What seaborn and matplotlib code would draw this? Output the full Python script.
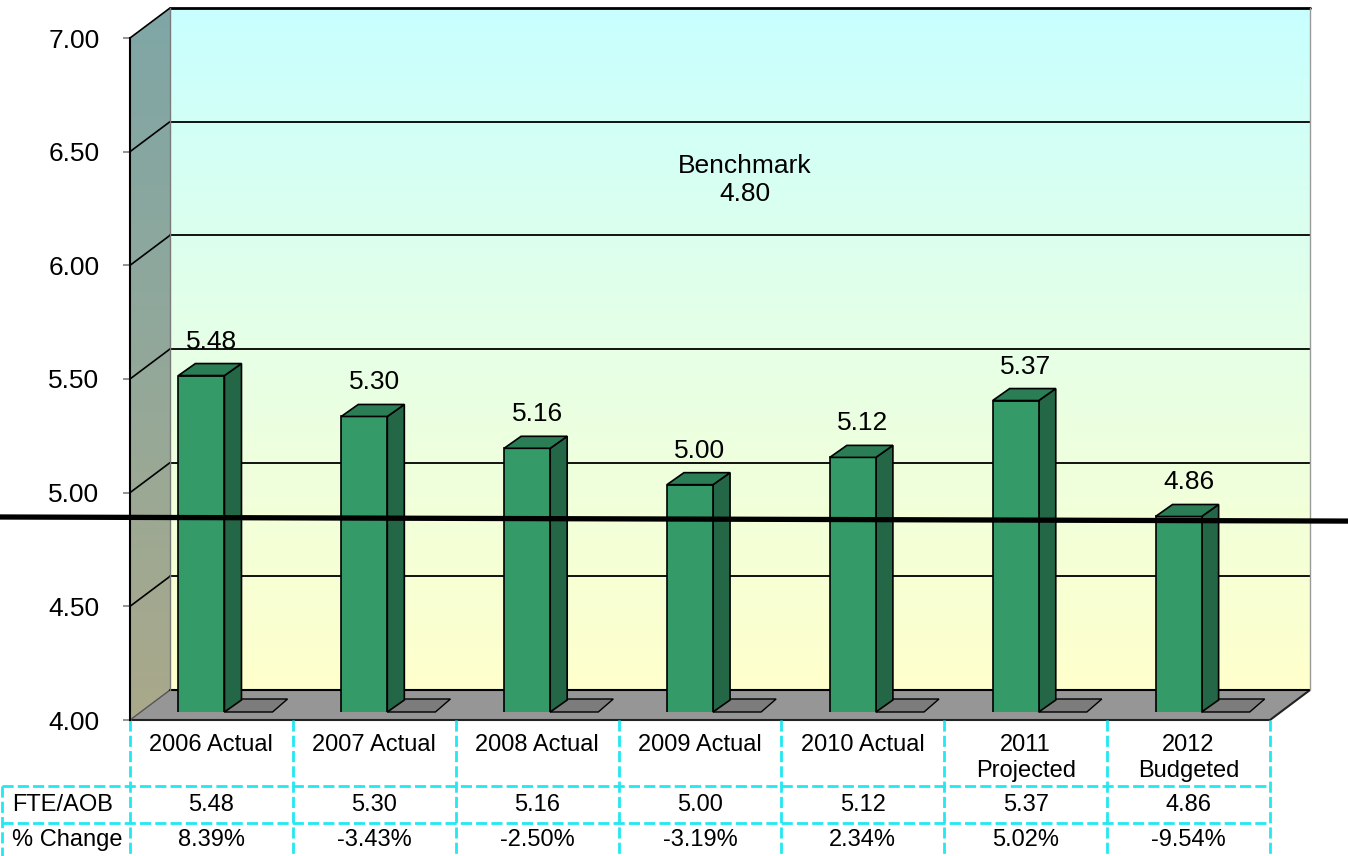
import numpy as np
import pandas as pd
import matplotlib
matplotlib.use("Agg")
import matplotlib.pyplot as plt
import matplotlib.transforms as mtransforms
from matplotlib.patches import Polygon
from matplotlib.colors import LinearSegmentedColormap
import seaborn as sns

# ---------------- data ----------------
categories = ["2006 Actual", "2007 Actual", "2008 Actual", "2009 Actual",
              "2010 Actual", "2011\nProjected", "2012\nBudgeted"]
fte_aob = [5.48, 5.30, 5.16, 5.00, 5.12, 5.37, 4.86]
pct_change = ["8.39%", "-3.43%", "-2.50%", "-3.19%", "2.34%", "5.02%", "-9.54%"]
row_labels = ["FTE/AOB", "% Change"]
y_ticks = [4.0, 4.5, 5.0, 5.5, 6.0, 6.5, 7.0]
benchmark_value = 4.80
benchmark_line = [4.893, 4.875]   # drawn level of the benchmark rule (left, right)

# ---------------- style ----------------
sns.set_theme(style="white")
plt.rcParams['font.family'] = ['Liberation Sans', 'DejaVu Sans']
plt.rcParams['text.color'] = 'black'
plt.rcParams['ytick.labelcolor'] = 'black'
plt.rcParams['xtick.labelcolor'] = 'black'

W, H = 1348, 856
fig = plt.figure(figsize=(W / 100, H / 100), dpi=100)
fig.patch.set_facecolor("white")

FL, FR, FT, FB = 130, 1270, 38, 720     # front plane in px
DX, DY = 40, 30                          # wall depth
SCALE = (FB - FT) / (y_ticks[-1] - y_ticks[0])
YMIN, YMAX = y_ticks[0], y_ticks[-1]
n = len(categories)
COLW = (FR - FL) / n
FS_TABLE = 17


def rect(l, t, r, b):
    return [l / W, 1 - b / H, (r - l) / W, (b - t) / H]


def yf(v):
    return FB - (v - YMIN) * SCALE


def yb(v):
    return FB - DY - (v - YMIN) * SCALE


# ---------------- background (walls, floor, table) ----------------
ax_bg = fig.add_axes([0, 0, 1, 1], zorder=0)
ax_bg.set_xlim(0, W)
ax_bg.set_ylim(H, 0)
ax_bg.axis("off")

grad = np.linspace(0, 1, 256).reshape(-1, 1)
back_cmap = LinearSegmentedColormap.from_list("back", ["#c8ffff", "#e6ffe6", "#ffffcc"])
ax_bg.imshow(grad, cmap=back_cmap, extent=(FL + DX, FR + DX, FB - DY, FT - DY),
             aspect="auto", origin="upper", zorder=1)

left_cmap = LinearSegmentedColormap.from_list("left", ["#7fa6a6", "#93a89a", "#aaa88a"])
im = ax_bg.imshow(grad, cmap=left_cmap, extent=(FL, FL + DX, FB, FT - DY),
                  aspect="auto", origin="upper", zorder=1)
left_poly = Polygon([(FL, FT), (FL + DX, FT - DY), (FL + DX, FB - DY), (FL, FB)],
                    closed=True, facecolor="none", edgecolor="none",
                    transform=ax_bg.transData)
ax_bg.add_patch(left_poly)
im.set_clip_path(left_poly)

# floor
floor = Polygon([(FL, FB), (FR, FB), (FR + DX, FB - DY), (FL + DX, FB - DY)],
                closed=True, facecolor="#969696", edgecolor="none", zorder=2)
ax_bg.add_patch(floor)
ax_bg.plot([FL, FR, FR + DX], [FB, FB, FB - DY], color="#222222", lw=1.5, zorder=3)
ax_bg.plot([FL, FL + DX], [FB, FB - DY], color="#555555", lw=1.0, zorder=3)
ax_bg.plot([FL + DX, FR + DX], [FB - DY, FB - DY], color="black", lw=1.5, zorder=3)

# gridlines on back wall and left wall
for v in y_ticks[1:]:
    lw = 2.0 if v == YMAX else 1.3
    ax_bg.plot([FL + DX, FR + DX], [yb(v), yb(v)], color="black", lw=lw, zorder=3)
    ax_bg.plot([FL, FL + DX], [yf(v), yb(v)], color="black", lw=1.2, zorder=3)
ax_bg.plot([FL + DX, FL + DX], [yb(YMAX), yb(YMIN)], color="#7a7a7a", lw=1.0, zorder=3)
ax_bg.plot([FR + DX, FR + DX], [yb(YMAX), yb(YMIN)], color="#9a9a9a", lw=1.0, zorder=3)

# benchmark text
ax_bg.text((FL + FR) / 2 + DX + 5, 180, f"Benchmark\n{benchmark_value:.2f}",
           ha="center", va="center", fontsize=19, linespacing=1.25, zorder=4)

# data table
cyan = "#22e8f2"
dash = (0, (4, 1.5))
for k in range(n + 1):
    x = FL + k * COLW
    ax_bg.plot([x, x], [FB, H], color=cyan, lw=2, ls=dash, zorder=3)
ax_bg.plot([2, 2], [786, H], color=cyan, lw=2, ls=dash, zorder=3)
for y in (786, 823):
    ax_bg.plot([2, FR], [y, y], color=cyan, lw=2, ls=dash, zorder=3)

for i, cat in enumerate(categories):
    cx = FL + (i + 0.5) * COLW
    ax_bg.text(cx, 734, cat, ha="center", va="top", fontsize=FS_TABLE, linespacing=1.25)
    ax_bg.text(cx, 805, f"{fte_aob[i]:.2f}", ha="center", va="center", fontsize=FS_TABLE)
    ax_bg.text(cx, 840, pct_change[i], ha="center", va="center", fontsize=FS_TABLE)
ax_bg.text(12, 805, row_labels[0], ha="left", va="center", fontsize=FS_TABLE)
ax_bg.text(12, 840, row_labels[1], ha="left", va="center", fontsize=FS_TABLE)

# ---------------- bars (mid-depth plane) ----------------
BAR_BASE = FB - 8
BAR_SHIFT = -10
ax_bar = fig.add_axes(rect(FL + BAR_SHIFT, BAR_BASE - (YMAX - YMIN) * SCALE,
                           FR + BAR_SHIFT, BAR_BASE), zorder=2)
ax_bar.patch.set_alpha(0)

df = pd.DataFrame({"category": categories, "value": fte_aob})
sns.barplot(data=df, x="category", y="value", ax=ax_bar, width=0.283,
            color="#349a68", saturation=1, edgecolor="black", linewidth=1.2,
            errorbar=None, zorder=3)
ax_bar.set_ylim(YMIN, YMAX)
ax_bar.set_xlim(-0.5, n - 0.5)
ax_bar.axis("off")

ident = mtransforms.IdentityTransform()
ddx, ddy = 17, 12
for i, p in enumerate(ax_bar.patches[:n]):
    x0 = p.get_x()
    x1 = x0 + p.get_width()
    top = p.get_y() + p.get_height()
    (dx0, dyb), (dx1, dyt) = ax_bar.transData.transform([(x0, YMIN), (x1, top)])
    w = dx1 - dx0
    # floor shadow
    ax_bar.add_patch(Polygon([(dx1, dyb), (dx1 + w + 2, dyb), (dx1 + w + 2 + 15, dyb + 13),
                              (dx1 + 15, dyb + 13)], closed=True, transform=ident,
                             facecolor="#7c7c7c", edgecolor="black", lw=1.0,
                             clip_on=False, zorder=1))
    # side face
    ax_bar.add_patch(Polygon([(dx1, dyb), (dx1 + ddx, dyb + ddy), (dx1 + ddx, dyt + ddy),
                              (dx1, dyt)], closed=True, transform=ident,
                             facecolor="#236747", edgecolor="black", lw=1.2,
                             clip_on=False, zorder=2))
    # top face
    ax_bar.add_patch(Polygon([(dx0, dyt), (dx1, dyt), (dx1 + ddx, dyt + ddy),
                              (dx0 + ddx, dyt + ddy)], closed=True, transform=ident,
                             facecolor="#2b7d55", edgecolor="black", lw=1.2,
                             clip_on=False, zorder=4))
    ax_bar.annotate(f"{fte_aob[i]:.2f}", xy=(i, fte_aob[i]), xytext=(10, 34),
                    textcoords="offset pixels", ha="center", va="center",
                    fontsize=19, color="black", zorder=5, annotation_clip=False)

# ---------------- front axis (ticks + benchmark rule) ----------------
ax_front = fig.add_axes(rect(FL, FT, FR, FB), zorder=3)
ax_front.patch.set_alpha(0)
ax_front.set_ylim(YMIN, YMAX)
ax_front.set_xlim(-0.5, n - 0.5)
ax_front.set_yticks(y_ticks)
ax_front.set_yticklabels([f"{v:.2f}" for v in y_ticks], fontsize=19, color="black")
ax_front.set_xticks([])
for s in ("top", "right", "bottom"):
    ax_front.spines[s].set_visible(False)
ax_front.spines["left"].set_color("black")
ax_front.spines["left"].set_linewidth(1.5)
ax_front.tick_params(axis="y", direction="out", length=5, width=1.2,
                     color="#808080", pad=17, left=True)

trans = mtransforms.blended_transform_factory(fig.transFigure, ax_front.transData)
ax_front.plot([0, 1], benchmark_line, transform=trans, color="black", lw=3.8,
              clip_on=False, solid_capstyle="butt", zorder=6)

fig.savefig("out.png", dpi=100, facecolor="white")
